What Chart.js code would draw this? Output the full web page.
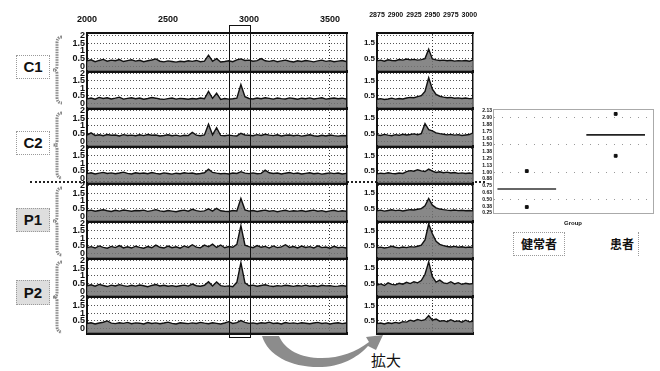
<!DOCTYPE html>
<html>
<head>
<meta charset="utf-8">
<script src="https://cdn.jsdelivr.net/npm/chart.js@4.4.1/dist/chart.umd.min.js"></script>
<style>
  html, body { margin: 0; padding: 0; background: #fff; }
  #stage { position: relative; width: 660px; height: 371px; overflow: hidden;
           font-family: "Liberation Sans", Arial, sans-serif; }
  #stage canvas { position: absolute; }
  .tag { position: absolute; border: 1px dotted #9a9a9a; font-weight: bold; font-size: 15px;
         text-align: center; color: #111; }
  .tag.shade { background: #dedede; }
  .jp { position: absolute; font-family: "Noto Sans CJK JP", sans-serif; font-weight: bold; color: #111; }
</style>
</head>
<body>
<div id="stage">
  <svg width="660" height="371" style="position:absolute;left:0;top:0">
    <g fill="none" stroke="#8a8a8a" stroke-width="3" stroke-dasharray="1.5 1">
      <path d="M62,37 Q57,37 57,43 L57,66 Q57,70 53,70 Q57,70 57,74 L57,97 Q57,103 62,103"/>
      <path d="M62,113 Q57,113 57,119 L57,141 Q57,145 53,145 Q57,145 57,149 L57,172 Q57,178 62,178"/>
      <path d="M62,188 Q57,188 57,194 L57,217 Q57,221 53,221 Q57,221 57,225 L57,249 Q57,255 62,255"/>
      <path d="M62,262 Q57,262 57,268 L57,293 Q57,297 53,297 Q57,297 57,301 L57,326 Q57,332 62,332"/>
    </g>
    <path d="M262,336 C268,356 292,368 322,367 C345,366 360,355 368,346 L376,350 L383,335 L366,337 L369,342 C356,352 340,358 322,358 C300,358 285,350 279,336 Z"
          fill="#8c8c8c"/>
  </svg>

  <div class="tag" style="left:16px;top:55px;width:32px;height:22px;line-height:22px">C1</div>
  <div class="tag" style="left:16px;top:131px;width:32px;height:22px;line-height:22px">C2</div>
  <div class="tag shade" style="left:16px;top:208px;width:32px;height:22px;line-height:22px">P1</div>
  <div class="tag shade" style="left:16px;top:280px;width:32px;height:23px;line-height:23px">P2</div>

  <div style="position:absolute;left:30px;top:181px;width:455px;border-top:2px dotted #222"></div>
  <div style="position:absolute;left:229px;top:25px;width:20px;height:311px;border:1px solid #111;z-index:5"></div>

  <div class="jp" style="left:513px;top:232px;width:50px;height:22px;border:1px dotted #9a9a9a;font-size:12px;line-height:22px;text-align:center">健常者</div>
  <div class="jp" style="left:610px;top:235px;font-size:12px;line-height:18px">患者</div>
  <div style="position:absolute;left:638px;top:232px;height:24px;border-left:1px dotted #9a9a9a"></div>
  <div class="jp" style="left:371px;top:350px;font-size:15px;line-height:20px;font-weight:normal">拡大</div>
</div>

<script>
  /* ---------- データ ---------- */
  var MAIN_X = [
    2000, 2025, 2050, 2075, 2100, 2125, 2150, 2175, 2200, 2225, 2250, 2275, 2300,
    2325, 2350, 2375, 2400, 2425, 2450, 2475, 2500, 2525, 2550, 2575, 2600, 2625,
    2650, 2675, 2700, 2725, 2750, 2775, 2800, 2825, 2850, 2875, 2900, 2925, 2950,
    2975, 3000, 3025, 3050, 3075, 3100, 3125, 3150, 3175, 3200, 3225, 3250, 3275,
    3300, 3325, 3350, 3375, 3400, 3425, 3450, 3475, 3500, 3525, 3550, 3575, 3600
  ];
  var ZOOM_X = [
    2875, 2880, 2885, 2890, 2895, 2900, 2905, 2910, 2915, 2920, 2925, 2930, 2935, 2940,
    2945, 2950, 2955, 2960, 2965, 2970, 2975, 2980, 2985, 2990, 2995, 3000, 3005
  ];
  var MAIN_TICKS = [2000, 2500, 3000, 3500];
  var ZOOM_TICKS = [2875, 2900, 2925, 2950, 2975, 3000];
  var Y_TICKS = [0, 0.5, 1, 1.5, 2];
  var MAIN_Y_LABELS = [0, 0.5, 1, 1.5, 2];
  var ZOOM_Y_LABELS = [0.5, 1.5];

  var C1_UPPER = [
    0.35, 0.42, 0.30, 0.38, 0.45, 0.33, 0.40, 0.36, 0.44, 0.31, 0.37, 0.42, 0.34,
    0.39, 0.30, 0.36, 0.41, 0.48, 0.33, 0.29, 0.35, 0.31, 0.27, 0.33, 0.30, 0.36,
    0.32, 0.38, 0.30, 0.34, 0.72, 0.33, 0.50, 0.28, 0.31, 0.36, 0.30, 0.42, 0.48,
    0.38, 0.40, 0.33, 0.37, 0.50, 0.36, 0.32, 0.38, 0.30, 0.35, 0.40, 0.33, 0.28,
    0.36, 0.31, 0.38, 0.34, 0.29, 0.35, 0.40, 0.32, 0.37, 0.30, 0.34, 0.38, 0.31
  ];
  var C1_LOWER = [
    0.30, 0.36, 0.28, 0.40, 0.33, 0.38, 0.30, 0.35, 0.42, 0.29, 0.34, 0.38, 0.31,
    0.36, 0.28, 0.33, 0.39, 0.35, 0.30, 0.27, 0.32, 0.36, 0.29, 0.34, 0.31, 0.28,
    0.33, 0.30, 0.36, 0.31, 0.80, 0.34, 0.68, 0.27, 0.33, 0.29, 0.31, 0.35, 1.25,
    0.45, 0.33, 0.30, 0.36, 0.31, 0.38, 0.34, 0.29, 0.36, 0.32, 0.30, 0.37, 0.33,
    0.28, 0.35, 0.31, 0.37, 0.30, 0.34, 0.38, 0.29, 0.33, 0.36, 0.31, 0.35, 0.30
  ];
  var C2_UPPER = [
    0.40, 0.55, 0.38, 0.42, 0.36, 0.44, 0.39, 0.41, 0.35, 0.43, 0.38, 0.40, 0.36,
    0.42, 0.37, 0.44, 0.39, 0.41, 0.35, 0.38, 0.42, 0.36, 0.40, 0.34, 0.39, 0.37,
    0.58, 0.40, 0.36, 0.41, 1.10, 0.42, 0.88, 0.38, 0.36, 0.40, 0.37, 0.35, 0.52,
    0.41, 0.39, 0.36, 0.43, 0.38, 0.46, 0.40, 0.37, 0.42, 0.35, 0.39, 0.41, 0.36,
    0.40, 0.34, 0.38, 0.42, 0.36, 0.33, 0.39, 0.35, 0.41, 0.37, 0.34, 0.38, 0.36
  ];
  var C2_LOWER = [
    0.32, 0.38, 0.30, 0.35, 0.40, 0.33, 0.37, 0.31, 0.36, 0.42, 0.34, 0.30, 0.38,
    0.33, 0.36, 0.31, 0.39, 0.34, 0.30, 0.37, 0.33, 0.29, 0.35, 0.31, 0.38, 0.34,
    0.36, 0.30, 0.33, 0.38, 0.62, 0.40, 0.35, 0.31, 0.34, 0.30, 0.36, 0.33, 0.45,
    0.35, 0.32, 0.37, 0.31, 0.34, 0.55, 0.38, 0.33, 0.36, 0.30, 0.35, 0.39, 0.32,
    0.36, 0.30, 0.34, 0.38, 0.31, 0.35, 0.29, 0.33, 0.37, 0.32, 0.36, 0.30, 0.34
  ];
  var P1_UPPER = [
    0.35, 0.40, 0.33, 0.38, 0.42, 0.36, 0.31, 0.39, 0.34, 0.41, 0.37, 0.33, 0.38,
    0.36, 0.40, 0.32, 0.37, 0.43, 0.35, 0.31, 0.38, 0.34, 0.30, 0.36, 0.40, 0.33,
    0.45, 0.37, 0.32, 0.35, 0.48, 0.34, 0.52, 0.36, 0.33, 0.31, 0.38, 0.35, 1.15,
    0.42, 0.34, 0.38, 0.31, 0.36, 0.40, 0.33, 0.37, 0.30, 0.35, 0.39, 0.32, 0.36,
    0.34, 0.38, 0.31, 0.36, 0.40, 0.33, 0.37, 0.30, 0.35, 0.39, 0.32, 0.36, 0.33
  ];
  var P1_LOWER = [
    0.38, 0.45, 0.36, 0.50, 0.40, 0.35, 0.47, 0.39, 0.52, 0.37, 0.44, 0.36, 0.48,
    0.40, 0.35, 0.46, 0.38, 0.55, 0.41, 0.36, 0.49, 0.38, 0.44, 0.35, 0.50, 0.40,
    0.58, 0.42, 0.37, 0.55, 0.44, 0.62, 0.40, 0.56, 0.38, 0.46, 0.41, 0.60, 1.85,
    0.55, 0.45, 0.38, 0.52, 0.41, 0.47, 0.36, 0.50, 0.39, 0.44, 0.58, 0.40, 0.46,
    0.37, 0.49, 0.40, 0.45, 0.36, 0.51, 0.39, 0.43, 0.35, 0.47, 0.38, 0.42, 0.36
  ];
  var P2_UPPER = [
    0.36, 0.42, 0.33, 0.45, 0.38, 0.31, 0.40, 0.35, 0.43, 0.37, 0.32, 0.39, 0.34,
    0.41, 0.36, 0.30, 0.38, 0.44, 0.35, 0.39, 0.33, 0.37, 0.31, 0.36, 0.40, 0.34,
    0.47, 0.36, 0.33, 0.39, 0.62, 0.35, 0.60, 0.37, 0.32, 0.35, 0.30, 0.58, 1.85,
    0.55, 0.36, 0.40, 0.33, 0.38, 0.42, 0.35, 0.31, 0.37, 0.34, 0.39, 0.36, 0.32,
    0.38, 0.34, 0.40, 0.33, 0.36, 0.31, 0.39, 0.35, 0.37, 0.32, 0.34, 0.38, 0.33
  ];
  var P2_LOWER = [
    0.33, 0.38, 0.30, 0.36, 0.41, 0.50, 0.35, 0.32, 0.38, 0.34, 0.40, 0.31, 0.37,
    0.35, 0.30, 0.39, 0.33, 0.37, 0.31, 0.36, 0.42, 0.34, 0.30, 0.38, 0.35, 0.32,
    0.37, 0.33, 0.40, 0.35, 0.31, 0.38, 0.34, 0.30, 0.36, 0.45, 0.33, 0.39, 0.52,
    0.40, 0.34, 0.37, 0.31, 0.38, 0.35, 0.42, 0.33, 0.36, 0.30, 0.39, 0.34, 0.37,
    0.32, 0.38, 0.35, 0.31, 0.36, 0.40, 0.33, 0.37, 0.30, 0.35, 0.38, 0.32, 0.36
  ];

  var C1_UPPER_ZOOM = [0.35, 0.40, 0.33, 0.42, 0.38, 0.36, 0.44, 0.40, 0.47, 0.42,
                       0.45, 0.40, 0.43, 0.50, 1.10, 0.48, 0.42, 0.38, 0.40, 0.36,
                       0.39, 0.34, 0.37, 0.35, 0.38, 0.33, 0.40];
  var C1_LOWER_ZOOM = [0.28, 0.32, 0.26, 0.30, 0.35, 0.29, 0.33, 0.30, 0.36, 0.40,
                       0.38, 0.45, 0.52, 0.80, 1.70, 0.95, 0.60, 0.48, 0.42, 0.38,
                       0.40, 0.35, 0.37, 0.33, 0.36, 0.32, 0.34];
  var C2_UPPER_ZOOM = [0.42, 0.38, 0.45, 0.40, 0.36, 0.43, 0.39, 0.46, 0.41, 0.44,
                       0.48, 0.43, 0.50, 1.15, 0.75, 0.68, 0.55, 0.50, 0.46, 0.42,
                       0.45, 0.40, 0.43, 0.38, 0.41, 0.44, 0.55];
  var C2_LOWER_ZOOM = [0.30, 0.35, 0.32, 0.38, 0.34, 0.31, 0.36, 0.33, 0.45, 0.52,
                       0.48, 0.58, 0.50, 0.46, 0.62, 0.48, 0.40, 0.44, 0.38, 0.42,
                       0.36, 0.39, 0.34, 0.37, 0.33, 0.36, 0.32];
  var P1_UPPER_ZOOM = [0.36, 0.40, 0.34, 0.38, 0.42, 0.37, 0.40, 0.35, 0.39, 0.43,
                       0.41, 0.46, 0.50, 0.68, 1.15, 0.72, 0.55, 0.47, 0.43, 0.40,
                       0.38, 0.41, 0.37, 0.39, 0.36, 0.38, 0.35];
  var P1_LOWER_ZOOM = [0.38, 0.42, 0.36, 0.40, 0.48, 0.41, 0.37, 0.43, 0.39, 0.45,
                       0.42, 0.48, 0.55, 0.90, 1.95, 1.30, 0.80, 0.60, 0.52, 0.46,
                       0.43, 0.47, 0.41, 0.44, 0.40, 0.43, 0.39];
  var P2_UPPER_ZOOM = [0.40, 0.48, 0.38, 0.55, 0.45, 0.42, 0.52, 0.46, 0.58, 0.50,
                       0.62, 0.55, 0.70, 1.10, 1.90, 0.95, 0.60, 0.72, 0.55, 0.50,
                       0.62, 0.48, 0.56, 0.45, 0.52, 0.47, 0.50];
  var P2_LOWER_ZOOM = [0.32, 0.36, 0.30, 0.38, 0.33, 0.40, 0.35, 0.45, 0.42, 0.55,
                       0.48, 0.60, 0.52, 0.58, 0.85, 0.55, 0.62, 0.48, 0.52, 0.45,
                       0.58, 0.46, 0.50, 0.42, 0.55, 0.44, 0.48];

  // 群別プロット（健常者 / 患者）
  var GROUP_POS = [1, 2];
  var HEALTHY = [1.02, 0.36];
  var PATIENT = [2.07, 1.30];
  var SCATTER_TICKS = [0.25, 0.375, 0.5, 0.625, 0.75, 0.875, 1, 1.125, 1.25, 1.375,
                       1.5, 1.625, 1.75, 1.875, 2, 2.125];

  /* ---------- 共通設定 ---------- */
  Chart.defaults.font.family = '"Liberation Sans", Arial, sans-serif';
  Chart.defaults.color = "#111";
  Chart.defaults.animation = false;

  var stage = document.getElementById("stage");

  function fix(w, h) {
    return function (s) {
      if (w !== null) s.width = w;
      if (h !== null) s.height = h;
      s.paddingLeft = s.paddingRight = s.paddingTop = s.paddingBottom = 0;
    };
  }

  function tickList(list) {
    return function (s) {
      s.ticks = list.map(function (v) { return { value: v }; });
    };
  }

  function addCanvas(left, top, w, h) {
    var cv = document.createElement("canvas");
    cv.width = w;
    cv.height = h;
    cv.style.left = left + "px";
    cv.style.top = top + "px";
    stage.appendChild(cv);
    return cv;
  }

  function drawPanel(p) {
    var padT = 2, padR = 10, padB = 2;
    var cv = addCanvas(p.left - p.yW, p.top - p.topH - padT,
                       p.yW + p.w + padR, p.topH + padT + p.h + padB);
    new Chart(cv, {
      type: "line",
      data: {
        datasets: [{
          data: p.xs.map(function (x, i) { return { x: x, y: p.ys[i] }; }),
          borderColor: "#111",
          borderWidth: 1.4,
          backgroundColor: "rgba(115,115,115,0.85)",
          fill: "start",
          pointRadius: 0,
          tension: 0
        }]
      },
      options: {
        responsive: false,
        events: [],
        layout: { padding: { left: 0, top: padT, right: padR, bottom: padB } },
        plugins: { legend: { display: false }, tooltip: { enabled: false } },
        scales: {
          x: {
            type: "linear", position: "top", min: p.xMin, max: p.xMax,
            afterBuildTicks: tickList(p.xTicks),
            afterFit: fix(null, p.topH),
            ticks: {
              display: p.showX, autoSkip: false, maxRotation: 0, padding: p.xPad,
              font: { family: '"Liberation Sans Narrow", "Liberation Sans", sans-serif', size: p.xFont, weight: "bold" },
              callback: function (v) { return String(v); }
            },
            grid: {
              drawTicks: false, lineWidth: 1,
              color: function (c) { return c.tick && c.tick.value === p.gridX ? "#333" : "rgba(0,0,0,0)"; }
            },
            border: { color: "#111", width: p.topBorder, dash: [1, 2] }
          },
          xb: {
            type: "linear", position: "bottom",
            afterFit: fix(null, 0),
            ticks: { display: false },
            grid: { display: false, drawTicks: false },
            border: { color: "#111", width: 3 }
          },
          y: {
            min: -0.3, max: 2.15,
            afterBuildTicks: tickList(Y_TICKS),
            afterFit: fix(p.yW, null),
            ticks: {
              autoSkip: false, padding: 2,
              font: { size: p.yFont, weight: "bold" },
              callback: function (v) { return p.yLabels.indexOf(v) >= 0 ? String(v) : ""; }
            },
            grid: { drawTicks: false, color: "#555", lineWidth: 1 },
            border: { color: "#111", width: 2, dash: [1, 2] }
          },
          yr: {
            type: "linear", position: "right",
            afterFit: fix(0, null),
            ticks: { display: false },
            grid: { display: false, drawTicks: false },
            border: { color: "#111", width: 1.5 }
          }
        }
      }
    });
  }

  /* ---------- スペクトル 8 段 + 拡大 ---------- */
  var MAIN_SERIES = [C1_UPPER, C1_LOWER, C2_UPPER, C2_LOWER, P1_UPPER, P1_LOWER, P2_UPPER, P2_LOWER];
  var ZOOM_SERIES = [C1_UPPER_ZOOM, C1_LOWER_ZOOM, C2_UPPER_ZOOM, C2_LOWER_ZOOM,
                     P1_UPPER_ZOOM, P1_LOWER_ZOOM, P2_UPPER_ZOOM, P2_LOWER_ZOOM];

  MAIN_SERIES.forEach(function (ys, i) {
    var top = Math.round(33 + i * 37.5);
    var h = Math.round(33 + (i + 1) * 37.5) - top;
    var first = i === 0;
    drawPanel({
      left: 87, top: top, w: 260, h: h, yW: 24, topH: first ? 20 : 0,
      xs: MAIN_X, ys: ys, xMin: 2000, xMax: 3605, xTicks: MAIN_TICKS, gridX: 3500,
      showX: first, xFont: 9, xPad: 8, topBorder: first ? 2 : 1,
      yFont: 9, yLabels: MAIN_Y_LABELS
    });
    drawPanel({
      left: 377, top: top, w: 96, h: h, yW: 16, topH: first ? 24 : 0,
      xs: ZOOM_X, ys: ZOOM_SERIES[i], xMin: 2875, xMax: 3005, xTicks: ZOOM_TICKS, gridX: 2950,
      showX: first, xFont: 7, xPad: 14, topBorder: first ? 2 : 1,
      yFont: 8, yLabels: ZOOM_Y_LABELS
    });
  });

  /* ---------- 群比較 ---------- */
  function mean(a) {
    var s = 0;
    a.forEach(function (v) { s += v; });
    return s / a.length;
  }
  var HALF = 0.33;
  var hm = mean(HEALTHY), pm = mean(PATIENT);

  var sc = addCanvas(479, 104, 14 + 160 + 6, 2 + 107 + 14 + 2);
  new Chart(sc, {
    type: "scatter",
    data: {
      datasets: [
        { data: HEALTHY.map(function (v) { return { x: GROUP_POS[0], y: v }; }),
          pointStyle: "rect", pointRadius: 2, backgroundColor: "#111", borderColor: "#111" },
        { data: PATIENT.map(function (v) { return { x: GROUP_POS[1], y: v }; }),
          pointStyle: "rect", pointRadius: 2, backgroundColor: "#111", borderColor: "#111" },
        { type: "line", data: [{ x: GROUP_POS[0] - HALF, y: hm }, { x: GROUP_POS[0] + HALF, y: hm }],
          borderColor: "#333", borderWidth: 1.5, pointRadius: 0 },
        { type: "line", data: [{ x: GROUP_POS[1] - HALF, y: pm }, { x: GROUP_POS[1] + HALF, y: pm }],
          borderColor: "#222", borderWidth: 1.8, pointRadius: 0 }
      ]
    },
    options: {
      responsive: false,
      events: [],
      layout: { padding: { left: 0, top: 2, right: 6, bottom: 2 } },
      plugins: { legend: { display: false }, tooltip: { enabled: false } },
      scales: {
        x: {
          type: "linear", min: 0.62, max: 2.42,
          afterFit: fix(null, 14),
          ticks: { display: false },
          grid: { display: false, drawTicks: false },
          border: { color: "#aaa", width: 1 },
          title: { display: true, text: "Group", font: { size: 6, weight: "bold" }, padding: { top: 3, bottom: 0 } }
        },
        xt: {
          type: "linear", position: "top",
          afterFit: fix(null, 0),
          ticks: { display: false },
          grid: { display: false, drawTicks: false },
          border: { color: "#aaa", width: 1 }
        },
        y: {
          min: 0.25, max: 2.16,
          afterBuildTicks: tickList(SCATTER_TICKS),
          afterFit: fix(14, null),
          ticks: {
            autoSkip: false, padding: 1,
            font: { size: 5, weight: "bold" },
            callback: function (v) { return v.toFixed(2); }
          },
          grid: {
            drawTicks: false,
            color: function (c) {
              return c.tick && Math.abs(c.tick.value * 2 - Math.round(c.tick.value * 2)) < 1e-6 ? "#999" : "rgba(0,0,0,0)";
            }
          },
          border: { color: "#aaa", width: 1, dash: [1, 7] }
        },
        yr: {
          type: "linear", position: "right",
          afterFit: fix(0, null),
          ticks: { display: false },
          grid: { display: false, drawTicks: false },
          border: { color: "#aaa", width: 1 }
        }
      }
    }
  });
</script>
</body>
</html>
